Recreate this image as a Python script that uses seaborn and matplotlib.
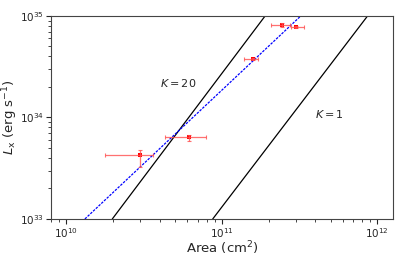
import numpy as np
import pandas as pd
import matplotlib
matplotlib.use("Agg")
import matplotlib.pyplot as plt
import seaborn as sns

# measured points (area in cm^2, Lx in erg/s) with asymmetric error ranges
area = [3.0e10, 6.15e10, 1.58e11, 2.43e11, 3.01e11]
area_lo = [1.79e10, 4.34e10, 1.40e11, 2.08e11, 2.79e11]
area_hi = [3.64e10, 7.95e10, 1.72e11, 2.75e11, 3.40e11]
lx = [4.27e33, 6.43e33, 3.74e34, 8.15e34, 7.74e34]
lx_lo = [3.27e33, 5.83e33, 3.65e34, 7.85e34, 7.56e34]
lx_hi = [4.80e33, 6.78e33, 3.83e34, 8.47e34, 7.92e34]

# K = 20 and K = 1 relations (endpoints)
k20_area = [1.98e10, 1.90e11]
k1_area = [8.75e10, 8.65e11]
k_lx = [1e33, 1e35]

# power-law fit through the points
fit_area = [1.32e10, 3.22e11]
fit_lx = [1e33, 1e35]

sns.set_style("ticks")
plt.rcParams['font.family'] = ['DejaVu Sans']

fig, ax = plt.subplots(figsize=(4.15, 2.57), dpi=100)
fig.subplots_adjust(left=0.123, right=0.947, top=0.938, bottom=0.148)

ax.set_xscale('log')
ax.set_yscale('log')

lines = pd.DataFrame({
    'area': k20_area + k1_area,
    'lx': k_lx + k_lx,
    'K': ['20', '20', '1', '1'],
})
sns.lineplot(data=lines, x='area', y='lx', units='K', estimator=None,
             color='black', linewidth=0.9, ax=ax, legend=False)

fit = pd.DataFrame({'area': fit_area, 'lx': fit_lx})
sns.lineplot(data=fit, x='area', y='lx', color='blue', linewidth=0.9,
             dashes=False, ax=ax, legend=False)
ax.lines[-1].set_linestyle((0, (2, 1)))

xerr = [np.array(area) - np.array(area_lo), np.array(area_hi) - np.array(area)]
yerr = [np.array(lx) - np.array(lx_lo), np.array(lx_hi) - np.array(lx)]
ax.errorbar(area, lx, xerr=xerr, yerr=yerr, fmt='none',
            ecolor=(1, 0.3, 0.3, 0.8), elinewidth=0.9, capsize=1.5, capthick=0.8)
sns.scatterplot(x=area, y=lx, color='red', marker='s', s=5, linewidth=0, ax=ax)

ax.text(4.0e10, 2.19e34, '$K = 20$', fontsize=8, va='center')
ax.text(3.95e11, 1.08e34, '$K = 1$', fontsize=8, va='center')

ax.set_xlim(8e9, 1.26e12)
ax.set_ylim(1e33, 1e35)
ax.set_xlabel('Area (cm$^2$)', fontsize=9.5, labelpad=0)
ax.set_ylabel('$L_{\\rm x}$ (erg s$^{-1}$)', fontsize=9.5, labelpad=0)
ax.tick_params(axis='both', which='major', labelsize=7.5, length=3.5, width=0.8, pad=1.5)
ax.tick_params(axis='both', which='minor', length=2, width=0.6)
for sp in ax.spines.values():
    sp.set_linewidth(0.8)
    sp.set_color('#444444')

plt.savefig('out.png', dpi=100)
